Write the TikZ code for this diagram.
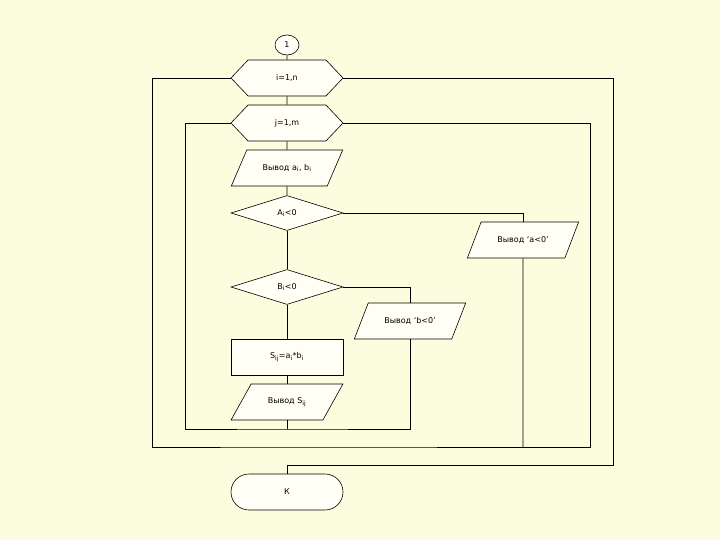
\documentclass[tikz,border=0pt]{standalone}
\usepackage{fontspec}
\setmainfont{DejaVu Sans}
\usetikzlibrary{shapes.geometric,shapes.misc,shapes.symbols}
\definecolor{bg}{RGB}{252,252,222}
\definecolor{nf}{RGB}{255,255,245}
\begin{document}
\begin{tikzpicture}[x=1pt,y=-1pt,
  base/.style={draw=black,fill=nf,line width=0.6pt,font=\fontsize{8}{9}\selectfont,inner sep=0pt,minimum width=112pt,minimum height=36pt},
  hexbox/.style={base,signal,signal to=east and west,signal pointer angle=93,minimum width=112pt},
  iobox/.style={base,trapezium,trapezium left angle=40,trapezium right angle=140,trapezium stretches=true,minimum width=112pt},
  decbox/.style={base,diamond,aspect=3.2,minimum height=35pt},
  procbox/.style={base,rectangle},
  termbox/.style={base,rounded rectangle},
  ln/.style={line width=0.6pt}]
\fill[bg] (0,0) rectangle (720,540);
\useasboundingbox (0,0) rectangle (720,540);
\node[base,ellipse,minimum width=24pt,minimum height=20pt] (c1) at (287,45) {1};
\node[hexbox] (hi) at (287,78) {i=1,n};
\node[hexbox] (hj) at (287,123) {j=1,m};
\node[iobox] (in) at (287,168) {Вывод a$_{\mathrm i}$, b$_{\mathrm i}$};
\node[decbox] (da) at (287,213) {A$_{\mathrm i}$<0};
\node[iobox] (oa) at (523,240) {Вывод ‘a<0’};
\node[decbox] (db) at (287,287) {B$_{\mathrm i}$<0};
\node[iobox] (ob) at (410,321) {Вывод ‘b<0’};
\node[procbox] (s) at (287,357) {S$_{\mathrm{ij}}$=a$_{\mathrm i}$*b$_{\mathrm i}$};
\node[iobox] (os) at (287,402) {Вывод S$_{\mathrm{ij}}$};
\node[termbox] (k) at (287,492) {К};
\coordinate (jb) at (287,429);
\coordinate (ib) at (287,447);
\coordinate (ab) at (523,447);
\draw[ln] (c1) -- (hi);
\draw[ln] (hi) -- (hj);
\draw[ln] (hj) -- (in);
\draw[ln] (in) -- (da);
\draw[ln] (da) -- (db);
\draw[ln] (db) -- (s);
\draw[ln] (s) -- (os);
\draw[ln] (os) -- (jb);
\draw[ln] (da.east) -| (oa.north);
\draw[ln] (db.east) -| (ob.north);
\draw[ln] (ob.south) |- (jb) -- (185,429) |- (hj.west);
\draw[ln] (hj.east) -- (590,123) |- (ib) -- (152,447) |- (hi.west);
\draw[ln] (oa.south) -- (ab);
\draw[ln] (hi.east) -- (613,78) -- (613,465) -- (287,465) -- (k.north);
\end{tikzpicture}
\end{document}
